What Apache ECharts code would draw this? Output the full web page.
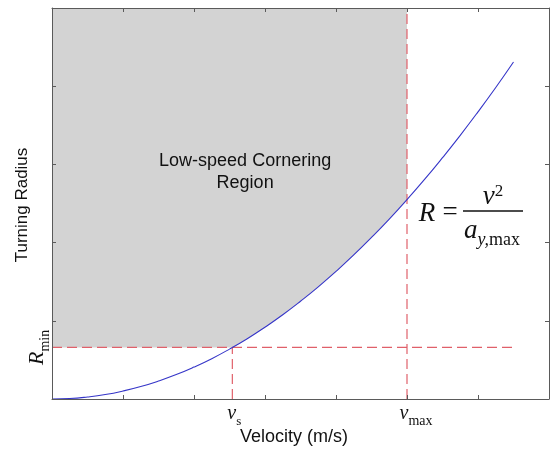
<!DOCTYPE html>
<html>
<head>
<meta charset="utf-8">
<script src="https://cdn.jsdelivr.net/npm/echarts@6/dist/echarts.min.js"></script>
<style>
  html, body { margin: 0; padding: 0; background: #fff; }
  #chart { width: 552px; height: 449px; }
</style>
</head>
<body>
<div id="chart"></div>
<script>
// Turning radius versus velocity: R = v^2 / a_y,max
const velocity = [0, 0.25, 0.5, 0.75, 1, 1.25, 1.5, 1.75, 2, 2.25, 2.5, 2.75, 3, 3.25,
  3.5, 3.75, 4, 4.25, 4.5, 4.75, 5, 5.25, 5.5, 5.75, 6, 6.25, 6.5];
const radius = [0, 0.006, 0.026, 0.057, 0.102, 0.159, 0.230, 0.312, 0.408, 0.516, 0.638,
  0.771, 0.918, 1.077, 1.250, 1.434, 1.632, 1.842, 2.066, 2.301, 2.550, 2.811, 3.086,
  3.372, 3.672, 3.984, 4.310];
const rMin = 0.66;      // minimum turning radius
const vS = 2.54;        // speed where the curve meets R_min
const vMax = 5.0;       // maximum speed
const xMax = 7;
const yMax = 5;

const curve = velocity.map((v, i) => [v, radius[i]]);

// Boundary of the shaded low-speed region (filled upward to the top of the axis)
const regionEdge = [[0, rMin], [vS, rMin]].concat(
  curve.filter(p => p[0] > vS && p[0] <= vMax)
);

const red = '#e0606a';
const axisColor = '#5a5a5a';
const dash = [10, 5];

const chart = echarts.init(document.getElementById('chart'));

const boxAxis = (extra) => Object.assign({
  type: 'value',
  min: 0,
  interval: 1,
  z: 10,
  axisLine: { show: true, onZero: false, lineStyle: { color: axisColor, width: 1 } },
  axisTick: { show: true, inside: true, length: 4, lineStyle: { color: axisColor } },
  axisLabel: { show: false },
  splitLine: { show: false }
}, extra);

chart.setOption({
  animation: false,
  grid: { left: 52, top: 8, right: 3, bottom: 50 },
  xAxis: [
    boxAxis({ max: xMax, position: 'bottom' }),
    boxAxis({ max: xMax, position: 'top' })
  ],
  yAxis: [
    boxAxis({ max: yMax, position: 'left' }),
    boxAxis({ max: yMax, position: 'right' })
  ],
  series: [
    {
      type: 'line',
      data: regionEdge,
      showSymbol: false,
      lineStyle: { width: 0 },
      areaStyle: { color: '#d3d3d3', opacity: 1, origin: 'end' },
      z: 1
    },
    {
      type: 'line',
      data: [[0, rMin], [6.5, rMin]],
      showSymbol: false,
      lineStyle: { color: red, width: 1.2, type: dash },
      z: 2
    },
    {
      type: 'line',
      data: [[vS, 0], [vS, rMin]],
      showSymbol: false,
      lineStyle: { color: red, width: 1.2, type: dash },
      z: 2
    },
    {
      type: 'line',
      data: [[vMax, 0], [vMax, yMax]],
      showSymbol: false,
      lineStyle: { color: red, width: 1.2, type: dash },
      z: 2
    },
    {
      type: 'line',
      data: curve,
      smooth: true,
      showSymbol: false,
      lineStyle: { color: '#3535c8', width: 1.1 },
      z: 3
    }
  ]
});

// Place the annotations using the axis scales
const px = (x, y) => chart.convertToPixel({ xAxisIndex: 0, yAxisIndex: 0 }, [x, y]);
const pVs = px(vS, 0);
const pVmax = px(vMax, 0);
const pRmin = px(0, rMin);
const pText = px(2.72, 2.9);

const serif = '"Liberation Serif", "DejaVu Serif", serif';
const sans = '"Liberation Sans", Arial, sans-serif';

chart.setOption({
  graphic: [
    {
      type: 'text',
      x: pText[0], y: pText[1],
      style: {
        text: 'Low-speed Cornering\nRegion',
        font: '18px ' + sans,
        fill: '#111',
        align: 'center',
        verticalAlign: 'middle',
        lineHeight: 22
      },
      z: 10
    },
    {
      type: 'text',
      x: 22, y: 205,
      rotation: Math.PI / 2,
      style: {
        text: 'Turning Radius',
        font: '17px ' + sans,
        fill: '#111',
        align: 'center',
        verticalAlign: 'middle'
      }
    },
    {
      type: 'text',
      x: 294, y: 437,
      style: {
        text: 'Velocity (m/s)',
        font: '18px ' + sans,
        fill: '#111',
        align: 'center',
        verticalAlign: 'middle'
      }
    },
    {
      type: 'text',
      x: 37, y: pRmin[1],
      rotation: Math.PI / 2,
      style: {
        text: '{r|R}{s|min}',
        align: 'center',
        verticalAlign: 'middle',
        rich: {
          r: { font: 'italic 22px ' + serif, fill: '#111', verticalAlign: 'bottom' },
          s: { font: '14px ' + serif, fill: '#111', verticalAlign: 'bottom', padding: [0, 0, -4, 0] }
        }
      }
    },
    {
      type: 'text',
      x: pVs[0] + 2, y: pVs[1] + 15,
      style: {
        text: '{v|v}{s|s}',
        align: 'center',
        verticalAlign: 'middle',
        rich: {
          v: { font: 'italic 20px ' + serif, fill: '#111', verticalAlign: 'bottom' },
          s: { font: '13px ' + serif, fill: '#111', verticalAlign: 'bottom', padding: [0, 0, -4, 0] }
        }
      }
    },
    {
      type: 'text',
      x: pVmax[0] + 9, y: pVmax[1] + 15,
      style: {
        text: '{v|v}{s|max}',
        align: 'center',
        verticalAlign: 'middle',
        rich: {
          v: { font: 'italic 20px ' + serif, fill: '#111', verticalAlign: 'bottom' },
          s: { font: '14px ' + serif, fill: '#111', verticalAlign: 'bottom', padding: [0, 0, -4, 0] }
        }
      }
    },
    // Formula R = v^2 / a_{y,max}
    {
      type: 'text',
      x: 427, y: 214,
      style: {
        text: 'R',
        font: 'italic 27px ' + serif,
        fill: '#111',
        align: 'center',
        verticalAlign: 'middle'
      }
    },
    {
      type: 'text',
      x: 450, y: 213,
      style: {
        text: '=',
        font: '27px ' + serif,
        fill: '#111',
        align: 'center',
        verticalAlign: 'middle'
      }
    },
    {
      type: 'line',
      shape: { x1: 463, y1: 211, x2: 523, y2: 211 },
      style: { stroke: '#111', lineWidth: 1.3 }
    },
    {
      type: 'text',
      x: 493, y: 197,
      style: {
        text: '{v|v}{p|2}',
        align: 'center',
        verticalAlign: 'middle',
        rich: {
          v: { font: 'italic 27px ' + serif, fill: '#111', verticalAlign: 'bottom' },
          p: { font: '17px ' + serif, fill: '#111', verticalAlign: 'bottom', padding: [0, 0, 10, 0] }
        }
      }
    },
    {
      type: 'text',
      x: 492, y: 231,
      style: {
        text: '{a|a}{s|y,}{m|max}',
        align: 'center',
        verticalAlign: 'middle',
        rich: {
          a: { font: 'italic 27px ' + serif, fill: '#111', verticalAlign: 'bottom' },
          s: { font: 'italic 18px ' + serif, fill: '#111', verticalAlign: 'bottom', padding: [0, 0, -5, 0] },
          m: { font: '18px ' + serif, fill: '#111', verticalAlign: 'bottom', padding: [0, 0, -5, 0] }
        }
      }
    }
  ]
});
</script>
</body>
</html>
